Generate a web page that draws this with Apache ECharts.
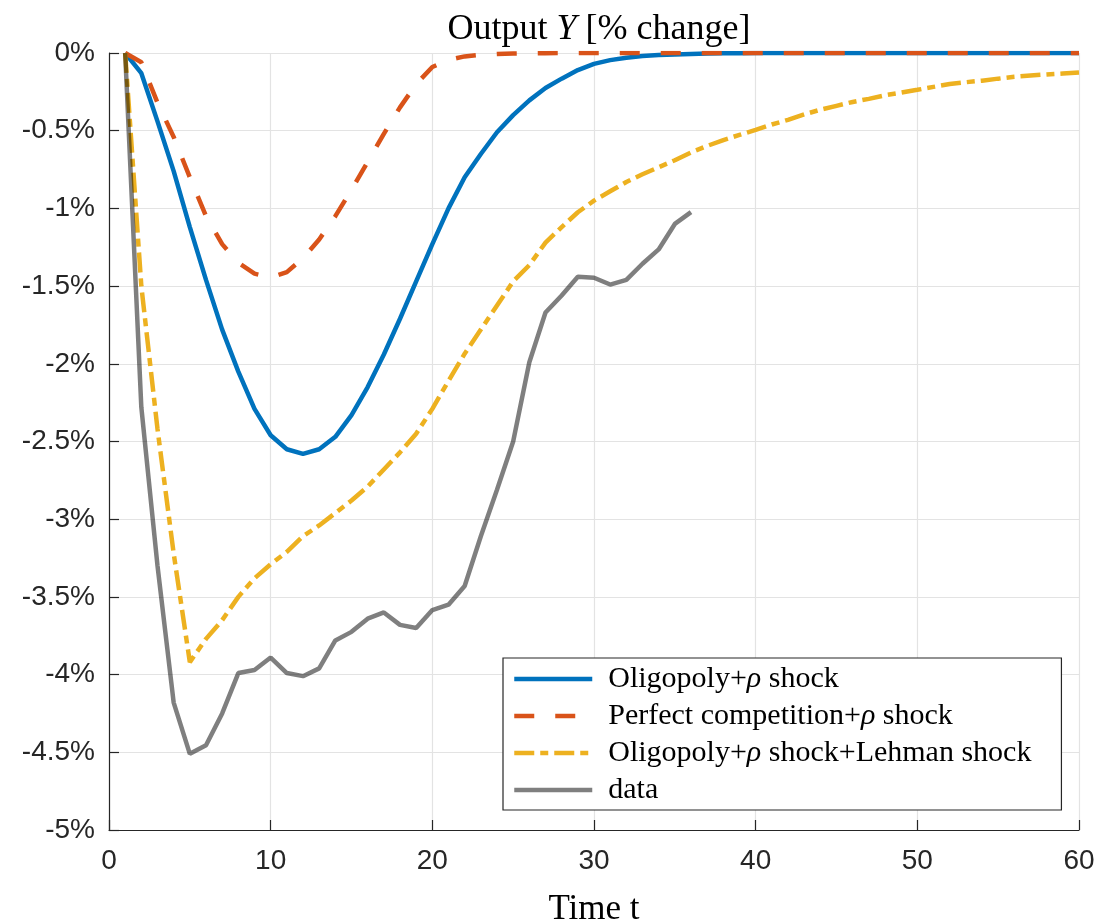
<!DOCTYPE html>
<html>
<head>
<meta charset="utf-8">
<script src="https://cdn.jsdelivr.net/npm/echarts@6/dist/echarts.min.js"></script>
<style>
  html, body { margin: 0; padding: 0; background: #ffffff; }
  #chart { width: 1106px; height: 924px; }
</style>
</head>
<body>
<div id="chart"></div>
<script>
// Output response, % change, per period t = 1, 2, ...
const oligopoly = [
  0, -0.13, -0.44, -0.76, -1.12, -1.46, -1.78, -2.05, -2.29, -2.46,
  -2.55, -2.58, -2.55, -2.47, -2.33, -2.15, -1.94, -1.71, -1.47, -1.23,
  -1.00, -0.80, -0.65, -0.51, -0.40, -0.305, -0.225, -0.165, -0.11, -0.07,
  -0.046, -0.03, -0.02, -0.013, -0.009, -0.006, -0.004, -0.002, -0.001, 0,
  0, 0, 0, 0, 0, 0, 0, 0, 0, 0,
  0, 0, 0, 0, 0, 0, 0, 0, 0, 0
];
const perfectCompetition = [
  0, -0.06, -0.32, -0.54, -0.80, -1.05, -1.23, -1.35, -1.42, -1.445,
  -1.41, -1.32, -1.20, -1.05, -0.88, -0.70, -0.52, -0.35, -0.20, -0.09,
  -0.045, -0.022, -0.012, -0.007, -0.004, -0.002, -0.001, 0, 0, 0,
  0, 0, 0, 0, 0, 0, 0, 0, 0, 0,
  0, 0, 0, 0, 0, 0, 0, 0, 0, 0,
  0, 0, 0, 0, 0, 0, 0, 0, 0, 0
];
const oligopolyLehman = [
  0, -1.50, -2.42, -3.22, -3.92, -3.77, -3.65, -3.50, -3.38, -3.29,
  -3.21, -3.11, -3.04, -2.96, -2.88, -2.79, -2.68, -2.57, -2.45, -2.29,
  -2.11, -1.935, -1.78, -1.625, -1.47, -1.365, -1.22, -1.12, -1.025, -0.95,
  -0.89, -0.83, -0.78, -0.735, -0.69, -0.64, -0.598, -0.56, -0.527, -0.495,
  -0.46, -0.43, -0.395, -0.365, -0.34, -0.315, -0.295, -0.272, -0.255, -0.237,
  -0.218, -0.20, -0.188, -0.178, -0.165, -0.153, -0.145, -0.138, -0.132, -0.126
];
const observed = [
  0, -2.28, -3.30, -4.18, -4.51, -4.455, -4.25, -3.99, -3.97, -3.89,
  -3.99, -4.01, -3.96, -3.78, -3.725, -3.64, -3.60, -3.68, -3.70, -3.585,
  -3.55, -3.43, -3.11, -2.81, -2.50, -1.99, -1.67, -1.56, -1.44, -1.446,
  -1.49, -1.46, -1.356, -1.264, -1.10, -1.024
];

const seriesNames = [
  'Oligopoly+ρ shock',
  'Perfect competition+ρ shock',
  'Oligopoly+ρ shock+Lehman shock',
  'data'
];
const legendRich = {
  'Oligopoly+ρ shock': '{r|Oligopoly+}{i|ρ}{r| shock}',
  'Perfect competition+ρ shock': '{r|Perfect competition+}{i|ρ}{r| shock}',
  'Oligopoly+ρ shock+Lehman shock': '{r|Oligopoly+}{i|ρ}{r| shock+Lehman shock}',
  'data': '{r|data}'
};
const xTicks = { min: 0, max: 60, step: 10 };
const yTicks = { min: -5, max: 0, step: 0.5 };

const toPoints = arr => arr.map((v, i) => [i + 1, v]);

const SERIF = '"Liberation Serif", "Times New Roman", serif';
const SANS = '"Liberation Sans", Arial, sans-serif';
const AXIS = '#262626';
const GRID = '#e3e3e3';

const chart = echarts.init(document.getElementById('chart'), null, { renderer: 'canvas' });

chart.setOption({
  animation: false,
  backgroundColor: '#ffffff',
  title: {
    text: '{r|Output }{i|Y}{r| [% change]}',
    left: 594,
    textAlign: 'center',
    top: 7,
    textStyle: {
      fontWeight: 'normal',
      rich: {
        r: { fontFamily: SERIF, fontSize: 36, fontWeight: 'normal', color: '#000' },
        i: { fontFamily: SERIF, fontSize: 36, fontWeight: 'normal', fontStyle: 'italic', color: '#000' }
      }
    }
  },
  grid: { left: 109, right: 27, top: 53, bottom: 94, containLabel: false, outerBoundsMode: 'none' },
  xAxis: {
    type: 'value',
    min: xTicks.min, max: xTicks.max, interval: xTicks.step,
    name: 'Time t',
    nameLocation: 'middle',
    nameGap: 62,
    nameTextStyle: { fontFamily: SERIF, fontSize: 35, color: '#000' },
    axisLine: { onZero: false, lineStyle: { color: AXIS, width: 1.2 } },
    axisTick: { inside: true, length: 10, lineStyle: { color: AXIS, width: 1.2 } },
    axisLabel: { fontFamily: SANS, fontSize: 28, color: '#262626', margin: 17 },
    splitLine: { show: true, lineStyle: { color: GRID, width: 1.2 } }
  },
  yAxis: {
    type: 'value',
    min: yTicks.min, max: yTicks.max, interval: yTicks.step,
    axisLine: { show: true, onZero: false, lineStyle: { color: AXIS, width: 1.2 } },
    axisTick: { show: true, inside: true, length: 10, lineStyle: { color: AXIS, width: 1.2 } },
    axisLabel: {
      fontFamily: SANS, fontSize: 28, color: '#262626', margin: 14,
      formatter: v => (Math.round(v * 10) / 10) + '%'
    },
    splitLine: { show: true, lineStyle: { color: GRID, width: 1.2 } }
  },
  legend: {
    orient: 'vertical',
    left: 503,
    top: 658,
    padding: [6, 30, 5, 9],
    itemGap: 7,
    itemWidth: 78,
    itemHeight: 14,
    backgroundColor: '#ffffff',
    borderColor: AXIS,
    borderWidth: 1.2,
    borderRadius: 0,
    selectedMode: false,
    data: seriesNames,
    formatter: name => legendRich[name],
    itemStyle: { opacity: 0 },
    lineStyle: { width: 4.5 },
    textStyle: {
      padding: [0, 0, 0, 11],
      rich: {
        r: { fontFamily: SERIF, fontSize: 30, color: '#000', lineHeight: 30 },
        i: { fontFamily: SERIF, fontSize: 30, fontStyle: 'italic', color: '#000', lineHeight: 30 }
      }
    }
  },
  series: [
    {
      name: seriesNames[0], type: 'line', data: toPoints(oligopoly),
      showSymbol: false, symbol: 'none', silent: true,
      lineStyle: { color: '#0072BD', width: 4.5 },
      itemStyle: { color: '#0072BD' }
    },
    {
      name: seriesNames[1], type: 'line', data: toPoints(perfectCompetition),
      showSymbol: false, symbol: 'none', silent: true,
      lineStyle: { color: '#D95319', width: 4.5, type: [20, 21] },
      itemStyle: { color: '#D95319' }
    },
    {
      name: seriesNames[2], type: 'line', data: toPoints(oligopolyLehman),
      showSymbol: false, symbol: 'none', silent: true,
      lineStyle: { color: '#EDB120', width: 4.5, type: [20, 6, 8, 6] },
      itemStyle: { color: '#EDB120' }
    },
    {
      name: seriesNames[3], type: 'line', data: toPoints(observed),
      showSymbol: false, symbol: 'none', silent: true,
      lineStyle: { color: 'rgba(0,0,0,0.5)', width: 4.5 },
      itemStyle: { color: 'rgba(0,0,0,0.5)' }
    }
  ]
});
</script>
</body>
</html>
